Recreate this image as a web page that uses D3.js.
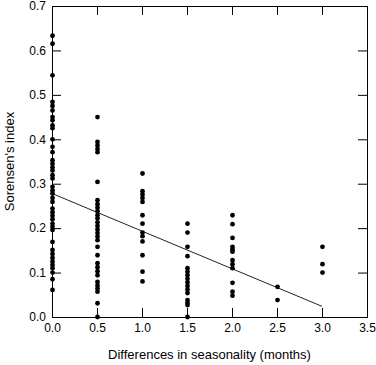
<!DOCTYPE html>
<html>
<head>
<meta charset="utf-8">
<script src="https://cdn.jsdelivr.net/npm/d3@7"></script>
<style>
body { margin: 0; background: #fff; }
.axis text { font-family: "Liberation Sans", Arial, sans-serif; font-size: 12px; fill: #000; }
.axis line { stroke: #000; }
</style>
</head>
<body>
<script>
// width and height
var w = 376;
var h = 365;
var margin = {top: 6, right: 9, bottom: 48, left: 52};

// seasonality difference (months) for each column of points
var months = [0, 0.5, 1.0, 1.5, 2.0, 2.5, 3.0];

// Sorensen's index values per column
var col0 = [0.633, 0.615, 0.544, 0.484, 0.475, 0.465, 0.45, 0.443, 0.431, 0.425, 0.40, 0.383, 0.371, 0.353, 0.345, 0.337, 0.33, 0.319, 0.312, 0.293, 0.285, 0.278, 0.268, 0.259, 0.244, 0.236, 0.228, 0.22, 0.21, 0.203, 0.196, 0.169, 0.151, 0.142, 0.133, 0.125, 0.117, 0.11, 0.10, 0.085, 0.061];
var col05 = [0.45, 0.394, 0.386, 0.378, 0.371, 0.304, 0.263, 0.254, 0.246, 0.238, 0.229, 0.222, 0.213, 0.205, 0.197, 0.189, 0.181, 0.173, 0.158, 0.139, 0.121, 0.112, 0.103, 0.094, 0.079, 0.071, 0.064, 0.057, 0.031, 0.0];
var col10 = [0.323, 0.283, 0.276, 0.268, 0.259, 0.229, 0.21, 0.19, 0.182, 0.17, 0.139, 0.102, 0.08];
var col15 = [0.21, 0.19, 0.158, 0.137, 0.11, 0.102, 0.094, 0.086, 0.078, 0.07, 0.062, 0.054, 0.038, 0.032, 0.027, 0.0];
var col20 = [0.229, 0.209, 0.178, 0.158, 0.152, 0.147, 0.128, 0.119, 0.11, 0.077, 0.057, 0.048];
var col25 = [0.068, 0.038];
var col30 = [0.158, 0.119, 0.10];
var columns = [col0, col05, col10, col15, col20, col25, col30];

// fitted line end points
var fitX = [0, 3.0];
var fitY = [0.278, 0.024];

var xTicks = [0, 0.5, 1.0, 1.5, 2.0, 2.5, 3.0, 3.5];
var yTicks = [0, 0.1, 0.2, 0.3, 0.4, 0.5, 0.6, 0.7];

var dataset = [];
columns.forEach(function(col, i) {
    col.forEach(function(v) { dataset.push([months[i], v]); });
});

var xScale = d3.scaleLinear()
    .domain([0, 3.5])
    .range([margin.left, w - margin.right]);

var yScale = d3.scaleLinear()
    .domain([0, 0.7])
    .range([h - margin.bottom, margin.top]);

var svg = d3.select("body")
    .append("svg")
    .attr("width", w)
    .attr("height", h);

// ticks point inward on all four sides
var xAxis = d3.axisBottom(xScale).tickValues(xTicks).tickFormat(d3.format(".1f"))
    .tickSizeInner(-9).tickSizeOuter(0).tickPadding(6);
var yAxis = d3.axisLeft(yScale).tickValues(yTicks).tickFormat(d3.format(".1f"))
    .tickSizeInner(-9).tickSizeOuter(0).tickPadding(6);
var xTop = d3.axisTop(xScale).tickValues(xTicks).tickFormat("").tickSizeInner(-9).tickSizeOuter(0);
var yRight = d3.axisRight(yScale).tickValues(yTicks).tickFormat("").tickSizeInner(-9).tickSizeOuter(0);

svg.append("g").attr("class", "axis")
    .attr("transform", "translate(0," + (h - margin.bottom) + ")")
    .call(xAxis);
svg.append("g").attr("class", "axis")
    .attr("transform", "translate(" + margin.left + ",0)")
    .call(yAxis);
svg.append("g").attr("class", "axis")
    .attr("transform", "translate(0," + margin.top + ")")
    .call(xTop);
svg.append("g").attr("class", "axis")
    .attr("transform", "translate(" + (w - margin.right) + ",0)")
    .call(yRight);
svg.selectAll(".axis path.domain").remove();

// frame
svg.append("rect")
    .attr("x", xScale(0) + 0.5)
    .attr("y", yScale(0.7) + 0.5)
    .attr("width", xScale(3.5) - xScale(0))
    .attr("height", yScale(0) - yScale(0.7))
    .attr("fill", "none")
    .attr("stroke", "#000");

// regression line
svg.append("line")
    .attr("x1", xScale(fitX[0])).attr("y1", yScale(fitY[0]))
    .attr("x2", xScale(fitX[1])).attr("y2", yScale(fitY[1]))
    .attr("stroke", "#222")
    .attr("stroke-width", 1);

svg.selectAll("circle")
    .data(dataset)
    .enter()
    .append("circle")
    .attr("cx", function(d) { return xScale(d[0]) + 0.5; })
    .attr("cy", function(d) { return yScale(d[1]); })
    .attr("r", 2.4)
    .attr("fill", "#000");

svg.append("text")
    .attr("x", (xScale(0) + xScale(3.5)) / 2)
    .attr("y", 359)
    .attr("text-anchor", "middle")
    .style("font-family", "'Liberation Sans', Arial, sans-serif")
    .style("font-size", "13px")
    .text("Differences in seasonality (months)");

svg.append("text")
    .attr("transform", "translate(14," + ((yScale(0) + yScale(0.7)) / 2) + ") rotate(-90)")
    .attr("text-anchor", "middle")
    .style("font-family", "'Liberation Sans', Arial, sans-serif")
    .style("font-size", "13px")
    .text("Sorensen's index");
</script>
</body>
</html>
